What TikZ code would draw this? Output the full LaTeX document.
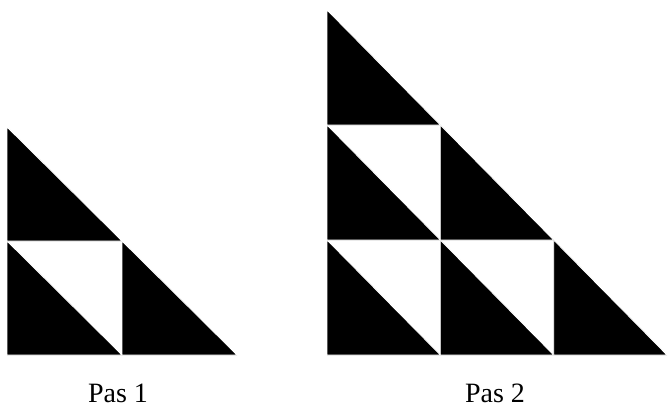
\documentclass[tikz,border=0pt]{standalone}
\usepackage{fontspec}
\setmainfont{Liberation Serif}
\begin{document}
\begin{tikzpicture}[x=1pt,y=-1pt,font=\fontsize{28}{32}\selectfont]
    \useasboundingbox (0,0) rectangle (668,408);
    \tikzset{tri/.style={draw=white,fill=black,line width=0.8pt}}
    % Pas 1
    \def\w{115}\def\h{114}
    \foreach \i/\j in {0/0,1/0,0/1} {
        \draw[tri] ({7+\i*\w},{355-\j*\h}) -- ++(0,-\h) -- ++(\w,\h) -- cycle;
    }
    \node[anchor=base] (pas1) at (118,402) {Pas 1};
    % Pas 2
    \def\w{113.33}\def\h{115}
    \foreach \i/\j in {0/0,1/0,2/0,0/1,1/1,0/2} {
        \draw[tri] ({327+\i*\w},{355-\j*\h}) -- ++(0,-\h) -- ++(\w,\h) -- cycle;
    }
    \node[anchor=base] (pas2) at (495,402) {Pas 2};
\end{tikzpicture}
\end{document}
